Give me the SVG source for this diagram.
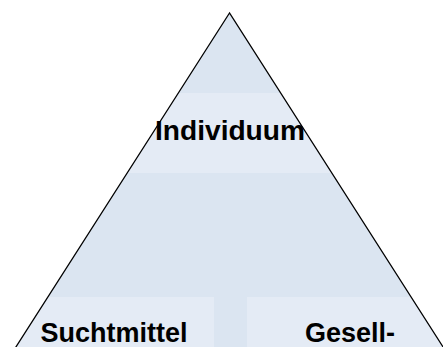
<svg xmlns="http://www.w3.org/2000/svg" width="443" height="347" viewBox="0 0 443 347">
<style>
.lbl{font-family:"Liberation Sans",Arial,sans-serif;font-weight:bold;font-size:27px;fill:#000;text-anchor:middle}
.box{fill:#e4ebf5}
</style>
<defs>
<clipPath id="tri"><polygon points="229.5,13 -18,400 477,400"/></clipPath>
</defs>
<rect width="443" height="347" fill="#fff"/>
<g id="pyramid">
<polygon points="229.5,13 -18,400 477,400" fill="#dbe5f1"/>
<g clip-path="url(#tri)">
<rect class="box" x="0" y="93" width="443" height="80"/>
<rect class="box" x="0" y="297" width="214" height="60"/>
<rect class="box" x="247" y="297" width="196" height="60"/>
</g>
</g>
<g id="individuum"><text class="lbl" x="230" y="140" textLength="150" lengthAdjust="spacingAndGlyphs">Individuum</text></g>
<g id="suchtmittel"><text class="lbl" x="114" y="341.5">Suchtmittel</text></g>
<g id="gesellschaft"><text class="lbl" x="350" y="341.5">Gesell-</text></g>
<g id="outline"><polygon points="229.5,13 -18,400 477,400" fill="none" stroke="#000" stroke-width="1.3"/></g>
</svg>
